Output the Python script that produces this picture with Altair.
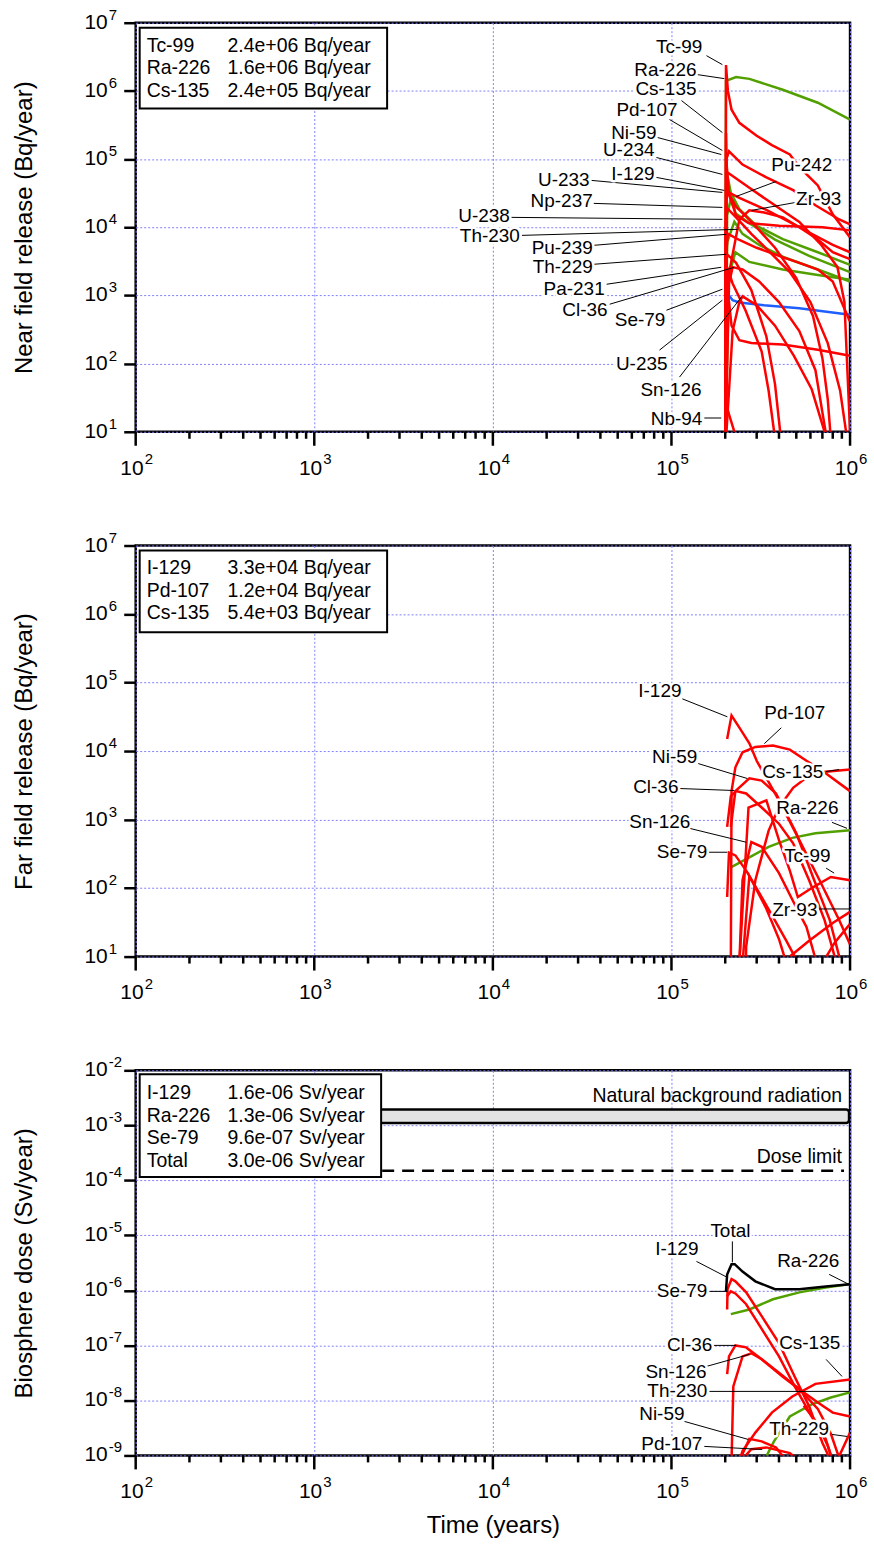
import altair as alt
import pandas as pd

FONT = "Liberation Sans"
W = 716
H1, H2, H3 = 410, 412, 386
RED, GREEN, BLUE, BLACK = "#ff0000", "#52a000", "#1f5fff", "#000000"
GRID = "#7f7fff"

# ---------------- Near field release (Bq/year) ----------------
nf_tc99_t = [2.0e5, 2.02e5, 2.07e5, 2.17e5, 2.4e5, 3.0e5, 3.65e5, 4.6e5, 5.2e5, 6.6e5, 8.0e5, 1.0e6]
nf_tc99_v = [5, 2.4e6, 1.0e6, 5.3e5, 3.4e5, 2.2e5, 1.6e5, 1.17e5, 7.6e4, 4.1e4, 1.55e4, 7.1e3]
nf_ra226_t = [2.0e5, 2.02e5, 2.3e5, 2.73e5, 4.2e5, 6.6e5, 1.0e6]
nf_ra226_v = [5, 1.4e6, 1.6e6, 1.5e6, 1.04e6, 6.7e5, 3.8e5]
nf_cs135_t = [2.0e5, 2.02e5, 2.04e5, 2.1e5, 2.3e5, 2.7e5, 4.0e5, 7.0e5, 1.0e6]
nf_cs135_v = [5, 2.4e5, 8.0e4, 3.0e4, 1.5e4, 1.15e4, 1.05e4, 1.0e4, 9.0e3]
nf_pd107_t = [2.0e5, 2.03e5, 2.1e5, 2.5e5, 3.4e5, 4.8e5, 6.4e5, 8.7e5, 1.0e6]
nf_pd107_v = [5, 1.0e5, 1.3e5, 8.3e4, 5.4e4, 3.5e4, 2.1e4, 1.3e4, 1.1e4]
nf_ni59_t = [2.0e5, 2.03e5, 2.05e5, 2.17e5, 2.73e5, 3.6e5, 5.2e5, 6.9e5, 8.5e5, 9.3e5, 1.0e6]
nf_ni59_v = [5, 5.0e4, 6.4e4, 5.8e4, 3.8e4, 2.3e4, 1.2e4, 5.5e3, 2.6e3, 8.0e2, 1.0e1]
nf_i129_t = [2.0e5, 2.03e5, 2.06e5, 2.4e5, 3.4e5, 5.2e5, 8.0e5, 1.0e6]
nf_i129_v = [5, 2.5e4, 3.3e4, 2.7e4, 1.8e4, 1.0e4, 5.5e3, 4.3e3]
nf_zr93_t = [2.0e5, 2.05e5, 2.2e5, 2.4e5, 2.73e5, 3.3e5, 4.2e5, 5.2e5, 6.6e5, 8.0e5, 1.0e6]
nf_zr93_v = [5, 1.5e3, 4.0e3, 1.3e4, 1.77e4, 1.65e4, 1.4e4, 1.0e4, 6.6e3, 4.3e3, 3.4e3]
nf_u234_t = [2.0e5, 2.03e5, 2.05e5, 2.15e5, 2.4e5, 3.0e5, 4.2e5, 6.6e5, 1.0e6]
nf_u234_v = [5, 4.0e4, 6.0e4, 3.2e4, 1.85e4, 1.05e4, 6.7e3, 4.3e3, 2.8e3]
nf_pu242_t = [2.0e5, 2.05e5, 2.17e5, 2.28e5, 2.73e5, 3.8e5, 5.9e5, 1.0e6]
nf_pu242_v = [5, 1.5e4, 2.9e4, 1.6e4, 1.15e4, 6.6e3, 3.8e3, 2.2e3]
nf_u238_t = [2.0e5, 2.05e5, 2.25e5, 2.5e5, 3.1e5, 4.3e5, 6.6e5, 1.0e6]
nf_u238_v = [5, 6.0e3, 1.2e4, 8.0e3, 5.5e3, 3.6e3, 2.4e3, 1.6e3]
nf_th230_t = [2.0e5, 2.1e5, 2.28e5, 2.73e5, 4.2e5, 6.6e5, 1.0e6]
nf_th230_v = [5, 2.0e3, 4.3e3, 3.1e3, 2.4e3, 2.0e3, 1.7e3]
nf_u233_t = [2.0e5, 2.02e5, 2.04e5, 2.3e5, 2.9e5, 3.8e5, 5.0e5, 6.2e5, 7.0e5, 7.5e5, 7.8e5]
nf_u233_v = [5, 2.0e4, 3.5e4, 2.0e4, 1.1e4, 5.0e3, 1.8e3, 5.0e2, 1.2e2, 3.0e1, 8]
nf_np237_t = [2.0e5, 2.03e5, 2.05e5, 2.3e5, 2.8e5, 3.5e5, 4.6e5, 6.0e5, 7.5e5, 8.8e5, 9.5e5]
nf_np237_v = [5, 1.2e4, 1.9e4, 1.4e4, 8.0e3, 4.5e3, 2.2e3, 8.0e2, 2.0e2, 4.0e1, 1.0e1]
nf_pu239_t = [2.0e5, 2.04e5, 2.07e5, 2.4e5, 3.0e5, 4.0e5, 5.2e5, 6.6e5, 8.0e5, 1.0e6]
nf_pu239_v = [5, 5.0e3, 8.0e3, 6.5e3, 5.0e3, 3.8e3, 3.0e3, 2.4e3, 1.6e3, 4.1e2]
nf_th229_t = [2.0e5, 2.03e5, 2.05e5, 2.3e5, 2.8e5, 3.4e5, 3.8e5, 4.1e5]
nf_th229_v = [5, 3.0e3, 4.0e3, 3.0e3, 1.2e3, 2.5e2, 5.0e1, 8]
nf_pa231_t = [2.0e5, 2.03e5, 2.05e5, 2.2e5, 2.6e5, 3.2e5, 3.5e5, 3.8e5]
nf_pa231_v = [5, 2.0e3, 2.6e3, 1.5e3, 6.0e2, 1.5e2, 4.0e1, 8]
nf_cl36_t = [2.0e5, 2.1e5, 2.2e5, 2.5e5, 3.1e5, 4.0e5, 5.2e5, 6.4e5, 7.4e5]
nf_cl36_v = [5, 1.5e3, 2.6e3, 2.4e3, 1.6e3, 8.0e2, 3.0e2, 8.0e1, 8]
nf_se79_t = [2.0e5, 2.03e5, 2.1e5, 2.17e5, 2.4e5, 2.8e5, 4.2e5, 6.6e5, 1.0e6]
nf_se79_v = [5, 1.2e3, 8.0e2, 3.6e2, 2.2e2, 2.0e2, 1.9e2, 1.6e2, 1.3e2]
nf_sn126_t = [2.0e5, 2.2e5, 2.4e5, 2.5e5, 3.0e5, 3.8e5, 4.85e5, 6.1e5, 7.2e5, 7.6e5]
nf_sn126_v = [5, 3.0e2, 8.0e2, 9.7e2, 7.2e2, 3.6e2, 1.3e2, 4.2e1, 1.0e1, 5]
nf_nb94_t = [2.0e5, 2.03e5, 2.1e5, 2.25e5, 2.4e5]
nf_nb94_v = [5, 25, 18, 10, 5]
nf_u235_t = [2.0e5, 2.05e5, 2.1e5, 2.2e5, 2.4e5, 3.3e5, 5.2e5, 1.0e6]
nf_u235_v = [5, 6.0e2, 1.0e3, 8.5e2, 7.9e2, 7.2e2, 6.5e2, 5.2e2]

nf_curves = [
    ("U-234", GREEN, nf_u234_t, nf_u234_v), ("Pu-242", GREEN, nf_pu242_t, nf_pu242_v),
    ("U-238", GREEN, nf_u238_t, nf_u238_v), ("Th-230", GREEN, nf_th230_t, nf_th230_v),
    ("Ra-226", GREEN, nf_ra226_t, nf_ra226_v), ("U-235", BLUE, nf_u235_t, nf_u235_v),
    ("Tc-99", RED, nf_tc99_t, nf_tc99_v), ("Cs-135", RED, nf_cs135_t, nf_cs135_v),
    ("Pd-107", RED, nf_pd107_t, nf_pd107_v), ("Ni-59", RED, nf_ni59_t, nf_ni59_v),
    ("I-129", RED, nf_i129_t, nf_i129_v), ("Zr-93", RED, nf_zr93_t, nf_zr93_v),
    ("U-233", RED, nf_u233_t, nf_u233_v), ("Np-237", RED, nf_np237_t, nf_np237_v),
    ("Pu-239", RED, nf_pu239_t, nf_pu239_v), ("Th-229", RED, nf_th229_t, nf_th229_v),
    ("Pa-231", RED, nf_pa231_t, nf_pa231_v), ("Cl-36", RED, nf_cl36_t, nf_cl36_v),
    ("Se-79", RED, nf_se79_t, nf_se79_v), ("Sn-126", RED, nf_sn126_t, nf_sn126_v),
    ("Nb-94", RED, nf_nb94_t, nf_nb94_v),
]
# label: name, align, log10 t, log10 v, leader from (log t, log v) to (log t, log v)
nf_labels = [
    ("Tc-99", "right", 5.173, 6.649, 5.196, 6.517, 5.285, 6.385),
    ("Ra-226", "right", 5.140, 6.312, 5.145, 6.239, 5.296, 6.180),
    ("Cs-135", "right", 5.140, 6.034, 5.056, 5.858, 5.285, 5.389),
    ("Pd-107", "right", 5.034, 5.726, 4.989, 5.580, 5.285, 5.126),
    ("Ni-59", "right", 4.916, 5.389, 4.922, 5.316, 5.279, 5.067),
    ("U-234", "right", 4.905, 5.126, 4.916, 5.023, 5.285, 4.775),
    ("I-129", "right", 4.905, 4.775, 4.916, 4.731, 5.296, 4.540),
    ("U-233", "right", 4.542, 4.700, 4.553, 4.687, 5.285, 4.511),
    ("Np-237", "right", 4.559, 4.379, 4.565, 4.350, 5.285, 4.291),
    ("U-238", "right", 4.095, 4.160, 4.101, 4.145, 5.285, 4.116),
    ("Th-230", "right", 4.151, 3.866, 4.162, 3.881, 5.369, 3.969),
    ("Pu-239", "right", 4.559, 3.691, 4.565, 3.735, 5.307, 3.896),
    ("Th-229", "right", 4.559, 3.413, 4.565, 3.457, 5.307, 3.603),
    ("Pa-231", "right", 4.626, 3.091, 4.637, 3.164, 5.279, 3.413),
    ("Cl-36", "right", 4.642, 2.783, 4.654, 2.871, 5.352, 3.413),
    ("Se-79", "right", 4.966, 2.637, 4.972, 2.783, 5.285, 3.091),
    ("U-235", "right", 4.978, 1.993, 4.933, 2.198, 5.285, 2.930),
    ("Sn-126", "right", 5.168, 1.612, 5.045, 1.802, 5.391, 2.974),
    ("Nb-94", "right", 5.173, 1.187, 5.184, 1.202, 5.279, 1.202),
    ("Pu-242", "left", 5.559, 4.906, 5.587, 4.672, 5.363, 4.452),
    ("Zr-93", "left", 5.698, 4.409, 5.698, 4.365, 5.447, 4.247),
]
nf_leg_names = ["Tc-99", "Ra-226", "Cs-135"]
nf_leg_vals = ["2.4e+06 Bq/year", "1.6e+06 Bq/year", "2.4e+05 Bq/year"]

# ---------------- Far field release (Bq/year) ----------------
ff_i129_t = [2.05e5, 2.17e5, 2.4e5, 2.73e5, 3.0e5, 4.0e5, 5.2e5, 6.75e5, 8.7e5, 1.0e6]
ff_i129_v = [1.5e4, 3.3e4, 2.2e4, 1.3e4, 7.2e3, 1.9e3, 5.0e2, 1.3e2, 3.4e1, 1.5e1]
ff_pd107_t = [2.15e5, 2.17e5, 2.28e5, 2.5e5, 2.95e5, 3.7e5, 4.6e5, 5.7e5, 6.75e5, 1.0e6]
ff_pd107_v = [8, 2.6e3, 5.8e3, 9.6e3, 1.15e4, 1.2e4, 1.05e4, 7.2e3, 5.5e3, 2.6e3]
ff_ni59_t = [2.15e5, 2.28e5, 2.73e5, 3.2e5, 3.85e5, 5.0e5, 6.3e5, 7.7e5, 8.7e5]
ff_ni59_v = [7.8e2, 2.6e3, 4.0e3, 3.7e3, 2.4e3, 6.3e2, 1.3e2, 3.4e1, 1.0e1]
ff_cs135_t = [2.6e5, 2.62e5, 2.95e5, 3.5e5, 4.0e5, 4.8e5, 5.7e5, 7.3e5, 1.0e6]
ff_cs135_v = [5, 1.4e1, 1.3e2, 6.9e2, 1.5e3, 2.9e3, 4.1e3, 5.0e3, 5.4e3]
ff_cl36_t = [2.05e5, 2.15e5, 2.3e5, 2.62e5, 3.2e5, 4.0e5, 4.8e5, 5.9e5, 7.2e5, 8.2e5]
ff_cl36_v = [7.8e2, 2.2e3, 2.6e3, 2.4e3, 1.5e3, 8.7e2, 4.5e2, 1.3e2, 3.4e1, 1.0e1]
ff_sn126_t = [2.4e5, 2.5e5, 2.8e5, 3.2e5, 4.0e5, 5.0e5, 5.7e5, 6.35e5]
ff_sn126_v = [8, 1.3e2, 4.7e2, 4.0e2, 1.65e2, 5.2e1, 2.7e1, 1.0e1]
ff_se79_t = [2.05e5, 2.1e5, 2.28e5, 2.62e5, 3.1e5, 3.7e5, 4.4e5, 4.9e5]
ff_se79_v = [7.4e1, 3.3e2, 3.0e2, 1.8e2, 8.5e1, 3.8e1, 1.7e1, 1.0e1]
ff_ra226_t = [2.15e5, 2.73e5, 3.5e5, 4.75e5, 6.4e5, 1.0e6]
ff_ra226_v = [2.0e2, 2.8e2, 4.0e2, 5.4e2, 6.3e2, 7.0e2]
ff_tc99_t = [2.4e5, 2.7e5, 3.4e5, 4.0e5, 4.6e5, 5.1e5, 6.1e5, 7.8e5, 1.0e6]
ff_tc99_v = [8, 1.5e3, 1.9e3, 5.0e2, 1.8e2, 7.4e1, 1.0e2, 1.45e2, 1.3e2]
ff_zr93_t = [4.6e5, 5.9e5, 8.0e5, 1.0e6]
ff_zr93_v = [1.0e1, 1.7e1, 3.1e1, 4.5e1]
ff_nb94_t = [2.5e5, 2.73e5, 3.4e5, 4.0e5, 4.4e5]
ff_nb94_v = [8, 1.5e2, 5.0e1, 1.8e1, 8]
ff_th229_t = [7.0e5, 8.2e5, 1.0e6]
ff_th229_v = [8, 1.6e1, 3.0e1]

ff_curves = [
    ("Ra-226", GREEN, ff_ra226_t, ff_ra226_v),
    ("I-129", RED, ff_i129_t, ff_i129_v), ("Pd-107", RED, ff_pd107_t, ff_pd107_v),
    ("Ni-59", RED, ff_ni59_t, ff_ni59_v), ("Cs-135", RED, ff_cs135_t, ff_cs135_v),
    ("Cl-36", RED, ff_cl36_t, ff_cl36_v), ("Sn-126", RED, ff_sn126_t, ff_sn126_v),
    ("Se-79", RED, ff_se79_t, ff_se79_v), ("Tc-99", RED, ff_tc99_t, ff_tc99_v),
    ("Zr-93", RED, ff_zr93_t, ff_zr93_v), ("Nb-94", RED, ff_nb94_t, ff_nb94_v),
    ("Th-229", RED, ff_th229_t, ff_th229_v),
]
ff_labels = [
    ("I-129", "right", 5.056, 4.878, 5.061, 4.762, 5.313, 4.500),
    ("Pd-107", "left", 5.520, 4.558, 5.615, 4.340, 5.520, 4.108),
    ("Ni-59", "right", 5.145, 3.919, 5.150, 3.817, 5.425, 3.599),
    ("Cs-135", "left", 5.508, 3.701, 5.866, 3.701, 5.939, 3.730),
    ("Cl-36", "right", 5.039, 3.468, 5.045, 3.453, 5.352, 3.424),
    ("Ra-226", "left", 5.587, 3.163, 5.899, 2.959, 5.983, 2.872),
    ("Sn-126", "right", 5.106, 2.959, 5.101, 2.872, 5.419, 2.669),
    ("Se-79", "right", 5.201, 2.523, 5.207, 2.523, 5.313, 2.523),
    ("Tc-99", "left", 5.631, 2.465, 5.866, 2.291, 5.911, 2.218),
    ("Zr-93", "left", 5.564, 1.680, 5.827, 1.695, 6.000, 1.695),
]
ff_leg_names = ["I-129", "Pd-107", "Cs-135"]
ff_leg_vals = ["3.3e+04 Bq/year", "1.2e+04 Bq/year", "5.4e+03 Bq/year"]

# ---------------- Biosphere dose (Sv/year) ----------------
bd_total_t = [2.02e5, 2.05e5, 2.17e5, 2.26e5, 2.5e5, 2.95e5, 3.8e5, 5.2e5, 7.3e5, 1.0e6]
bd_total_v = [9.6e-7, 1.95e-6, 3.0e-6, 3.0e-6, 2.2e-6, 1.46e-6, 1.05e-6, 1.05e-6, 1.18e-6, 1.29e-6]
bd_i129_t = [2.05e5, 2.06e5, 2.17e5, 2.28e5, 2.62e5, 3.2e5, 4.0e5, 4.9e5, 5.9e5, 7.0e5, 7.8e5]
bd_i129_v = [4.5e-7, 1.05e-6, 1.6e-6, 1.46e-6, 9.2e-7, 3.4e-7, 1.1e-7, 2.7e-8, 7.8e-9, 1.7e-9, 8e-10]
bd_se79_t = [2.05e5, 2.15e5, 2.28e5, 2.62e5, 3.2e5, 4.0e5, 4.9e5, 6.1e5, 7.3e5, 8.0e5]
bd_se79_v = [7.8e-7, 9.6e-7, 8.8e-7, 5.6e-7, 2.0e-7, 6.3e-8, 1.8e-8, 5.1e-9, 2.0e-9, 8e-10]
bd_ra226_t = [2.15e5, 2.73e5, 3.7e5, 5.2e5, 7.3e5, 1.0e6]
bd_ra226_v = [3.7e-7, 4.5e-7, 6.9e-7, 9.2e-7, 1.13e-6, 1.3e-6]
bd_cl36_t = [2.05e5, 2.1e5, 2.28e5, 2.62e5, 3.2e5, 4.2e5, 5.2e5, 6.6e5, 8.0e5, 1.0e6]
bd_cl36_v = [3.0e-8, 6.3e-8, 1.0e-7, 9.2e-8, 5.6e-8, 2.7e-8, 1.6e-8, 9.2e-9, 6.0e-9, 5.1e-9]
bd_sn126_t = [2.17e5, 2.22e5, 2.5e5, 2.8e5, 3.2e5, 4.0e5, 5.2e5, 6.6e5, 7.8e5, 8.8e5]
bd_sn126_v = [8e-10, 1.8e-8, 6.3e-8, 7.2e-8, 5.6e-8, 3.2e-8, 1.6e-8, 7.0e-9, 2.5e-9, 8e-10]
bd_cs135_t = [2.4e5, 2.5e5, 2.95e5, 3.65e5, 4.75e5, 6.4e5, 1.0e6]
bd_cs135_v = [8e-10, 1.2e-9, 2.6e-9, 6.0e-9, 1.18e-8, 2.0e-8, 2.4e-8]
bd_th230_t = [3.3e5, 3.75e5, 4.6e5, 6.1e5, 7.8e5, 1.0e6]
bd_th230_v = [8e-10, 1.8e-9, 5.1e-9, 8.5e-9, 1.13e-8, 1.4e-8]
bd_ni59_t = [2.4e5, 2.73e5, 3.2e5, 3.85e5, 4.4e5]
bd_ni59_v = [8e-10, 2.0e-9, 1.8e-9, 1.4e-9, 8e-10]
bd_pd107_t = [2.45e5, 2.8e5, 3.4e5, 4.6e5, 5.2e5]
bd_pd107_v = [8e-10, 1.3e-9, 1.4e-9, 1.1e-9, 8e-10]
bd_th229_t = [5.5e5, 6.5e5, 7.5e5, 8.2e5, 8.6e5, 1.0e6]
bd_th229_v = [8.0e-9, 4.0e-9, 1.5e-9, 6e-10, 9e-10, 2.6e-9]

bd_curves = [
    ("Ra-226", GREEN, bd_ra226_t, bd_ra226_v), ("Th-230", GREEN, bd_th230_t, bd_th230_v),
    ("I-129", RED, bd_i129_t, bd_i129_v), ("Se-79", RED, bd_se79_t, bd_se79_v),
    ("Cl-36", RED, bd_cl36_t, bd_cl36_v), ("Sn-126", RED, bd_sn126_t, bd_sn126_v),
    ("Cs-135", RED, bd_cs135_t, bd_cs135_v), ("Ni-59", RED, bd_ni59_t, bd_ni59_v),
    ("Pd-107", RED, bd_pd107_t, bd_pd107_v), ("Th-229", RED, bd_th229_t, bd_th229_v),
    ("Total", BLACK, bd_total_t, bd_total_v),
]
bd_labels = [
    ("Total", "center", 5.330, -4.927, 5.341, -5.109, 5.341, -5.491),
    ("I-129", "right", 5.151, -5.255, 5.140, -5.473, 5.313, -5.764),
    ("Ra-226", "left", 5.592, -5.473, 5.883, -5.709, 5.994, -5.891),
    ("Se-79", "right", 5.201, -6.018, 5.212, -6.018, 5.313, -6.018),
    ("Cl-36", "right", 5.229, -7.000, 5.235, -7.000, 5.363, -7.000),
    ("Cs-135", "left", 5.603, -6.964, 5.866, -7.255, 5.955, -7.564),
    ("Sn-126", "right", 5.196, -7.491, 5.196, -7.382, 5.436, -7.164),
    ("Th-230", "right", 5.201, -7.836, 5.212, -7.836, 5.994, -7.836),
    ("Ni-59", "right", 5.073, -8.255, 5.073, -8.382, 5.430, -8.709),
    ("Th-229", "left", 5.547, -8.527, 5.899, -8.618, 5.983, -8.655),
    ("Pd-107", "right", 5.173, -8.800, 5.184, -8.836, 5.508, -8.891),
]
bd_leg_names = ["I-129", "Ra-226", "Se-79", "Total"]
bd_leg_vals = ["1.6e-06 Sv/year", "1.3e-06 Sv/year", "9.6e-07 Sv/year", "3.0e-06 Sv/year"]

# reference levels (Sv/year)
background_band = [1.1e-3, 1.95e-3]
dose_limit = 1.5e-4
ref_notes = [("Natural background radiation", 5.955, -2.473), ("Dose limit", 5.955, -3.582)]

X_MAJOR = [1e2, 1e3, 1e4, 1e5, 1e6]
X_MINOR = [m * 10 ** e for e in range(2, 6) for m in range(2, 10)]

XS = alt.Scale(type="log", domain=[1e2, 1e6])
LABEL_SIZE = 19
LEGEND_SIZE = 19.5


def curves_df(curves):
    rows = []
    for name, color, ts, vs in curves:
        for i, (t, v) in enumerate(zip(ts, vs)):
            rows.append({"name": name, "color": color, "t": t, "v": v, "i": i})
    return pd.DataFrame(rows)


def labels_df(labels):
    rows = []
    for name, al, lt, lv, x1, y1, x2, y2 in labels:
        rows.append({"name": name, "align": al, "t": 10 ** lt, "v": 10 ** lv,
                     "x1": 10 ** x1, "y1": 10 ** y1, "x2": 10 ** x2, "y2": 10 ** y2})
    return pd.DataFrame(rows)


def panel(curves, labels, ydom, yexps, H, ytitle, leg_names, leg_vals, box, xtitle="", dose=False):
    YS = alt.Scale(type="log", domain=ydom)
    X = lambda f: alt.X(f, type="quantitative", scale=XS, title=xtitle)
    Y = lambda f: alt.Y(f, type="quantitative", scale=YS, title=ytitle)
    layers = []

    xaxis_kw = dict(values=X_MAJOR, grid=True, ticks=False, labels=False, domain=False,
                    gridColor=GRID, gridDash=[2, 2], gridWidth=1, gridOpacity=1,
                    titlePadding=58, titleFont=FONT, titleFontSize=24,
                    titleFontWeight="normal", titleColor="black")
    cdf = curves_df(curves)
    lines = alt.Chart(cdf).mark_line(clip=True, strokeWidth=2.5).encode(
        x=alt.X("t:Q", scale=XS, axis=alt.Axis(**xaxis_kw), title=xtitle),
        y=alt.Y("v:Q", scale=YS, title=ytitle,
                axis=alt.Axis(values=[10.0 ** k for k in yexps], grid=True, gridColor=GRID,
                              gridDash=[2, 2], gridWidth=1, gridOpacity=1, ticks=True, tickSize=12,
                              tickWidth=2.5, tickColor="black", labels=False, domain=False,
                              titlePadding=86, titleFont=FONT, titleFontSize=24,
                              titleFontWeight="normal", titleColor="black")),
        detail="name:N",
        color=alt.Color("color:N", scale=None),
        order="i:Q",
    )
    layers.append(lines)

    if dose:
        band = pd.DataFrame([{"t1": 2.2e3, "t2": 9.87e5, "v1": background_band[0], "v2": background_band[1]}])
        layers.append(alt.Chart(band).mark_rect(fill="#e3e3e3", stroke="black", strokeWidth=2.5,
                                                cornerRadius=3).encode(
            x=X("t1"), x2="t2", y=Y("v1"), y2="v2"))
        dl = pd.DataFrame([{"t1": 2.4e3, "t2": 9.25e5, "v": dose_limit}])
        layers.append(alt.Chart(dl).mark_rule(color="black", strokeWidth=2.5, strokeDash=[12, 8]).encode(
            x=X("t1"), x2="t2", y=Y("v")))
        notes = pd.DataFrame([{"txt": s, "t": 10 ** a, "v": 10 ** b} for s, a, b in ref_notes])
        layers.append(alt.Chart(notes).mark_text(align="right", baseline="middle", font=FONT,
                                                 fontSize=19.5, color="black").encode(
            x=X("t"), y=Y("v"), text="txt:N"))

    ldf = labels_df(labels)
    layers.append(alt.Chart(ldf).mark_rule(color="black", strokeWidth=1).encode(
        x=X("x1"), y=Y("y1"), x2="x2", y2="y2"))
    for al in ["left", "right", "center"]:
        sub = ldf[ldf["align"] == al]
        if len(sub) == 0:
            continue
        layers.append(alt.Chart(sub).mark_text(align=al, baseline="middle", font=FONT, fontSize=LABEL_SIZE,
                                               fill="white", stroke="white", strokeWidth=5,
                                               strokeJoin="round").encode(
            x=X("t"), y=Y("v"), text="name:N"))
        layers.append(alt.Chart(sub).mark_text(align=al, baseline="middle", font=FONT, fontSize=LABEL_SIZE,
                                               color="black").encode(
            x=X("t"), y=Y("v"), text="name:N"))

    # legend box
    bx1, by1, bx2, by2, cy = box
    one = pd.DataFrame([{"k": 0}])
    layers.append(alt.Chart(one).mark_rect(fill="white", stroke="black", strokeWidth=2).encode(
        x=alt.value(bx1), x2=alt.value(bx2), y=alt.value(by1), y2=alt.value(by2)))
    layers.append(alt.Chart(one).mark_text(align="left", baseline="middle", font=FONT, fontSize=LEGEND_SIZE,
                                           lineBreak="\n", lineHeight=22.5, color="black").encode(
        x=alt.value(bx1 + 7), y=alt.value(cy), text=alt.value("\n".join(leg_names))))
    layers.append(alt.Chart(one).mark_text(align="left", baseline="middle", font=FONT, fontSize=LEGEND_SIZE,
                                           lineBreak="\n", lineHeight=22.5, color="black").encode(
        x=alt.value(bx1 + 88), y=alt.value(cy), text=alt.value("\n".join(leg_vals))))

    # x ticks
    layers.append(alt.Chart(pd.DataFrame({"t": X_MINOR})).mark_rule(color="black", strokeWidth=2.5).encode(
        x=X("t"), y=alt.value(H), y2=alt.value(H + 7)))
    layers.append(alt.Chart(pd.DataFrame({"t": X_MAJOR})).mark_rule(color="black", strokeWidth=2.5).encode(
        x=X("t"), y=alt.value(H), y2=alt.value(H + 14)))
    # x tick labels 10^k
    xl = pd.DataFrame({"t": X_MAJOR, "b": ["10"] * 5, "e": ["2", "3", "4", "5", "6"]})
    layers.append(alt.Chart(xl).mark_text(align="right", baseline="middle", font=FONT, fontSize=21,
                                          dx=8, color="black").encode(
        x=X("t"), y=alt.value(H + 37), text="b:N"))
    layers.append(alt.Chart(xl).mark_text(align="left", baseline="middle", font=FONT, fontSize=15,
                                          dx=9, color="black").encode(
        x=X("t"), y=alt.value(H + 27), text="e:N"))
    # y tick labels 10^k
    yl = pd.DataFrame({"v": [10.0 ** k for k in yexps], "b": ["10"] * len(yexps),
                       "e": [str(k) for k in yexps]})
    layers.append(alt.Chart(yl).mark_text(align="right", baseline="middle", font=FONT, fontSize=21,
                                          color="black").encode(
        x=alt.value(-28), y=Y("v"), text="b:N"))
    layers.append(alt.Chart(yl).mark_text(align="left", baseline="middle", font=FONT, fontSize=15,
                                          dy=-8, color="black").encode(
        x=alt.value(-27), y=Y("v"), text="e:N"))

    return alt.layer(*layers).properties(width=W, height=H)


p1 = panel(nf_curves, nf_labels, [1e1, 1e7], list(range(1, 8)), H1,
           "Near field release (Bq/year)", nf_leg_names, nf_leg_vals, (4, 5, 252, 86, 23))
p2 = panel(ff_curves, ff_labels, [1e1, 1e7], list(range(1, 8)), H2,
           "Far field release (Bq/year)", ff_leg_names, ff_leg_vals, (4, 5, 252, 87, 23))
p3 = panel(bd_curves, bd_labels, [1e-9, 1e-2], list(range(-9, -1)), H3,
           "Biosphere dose (Sv/year)", bd_leg_names, bd_leg_vals, (4, 4, 246, 107, 23),
           xtitle="Time (years)", dose=True)

chart = alt.vconcat(p1, p2, p3, spacing=48).properties(
    padding={"left": 11, "top": 4, "right": 5, "bottom": 5},
    background="white",
).configure_view(stroke="black", strokeWidth=2.5)

chart.save("out.html", embed_options={"renderer": "svg", "actions": False})
